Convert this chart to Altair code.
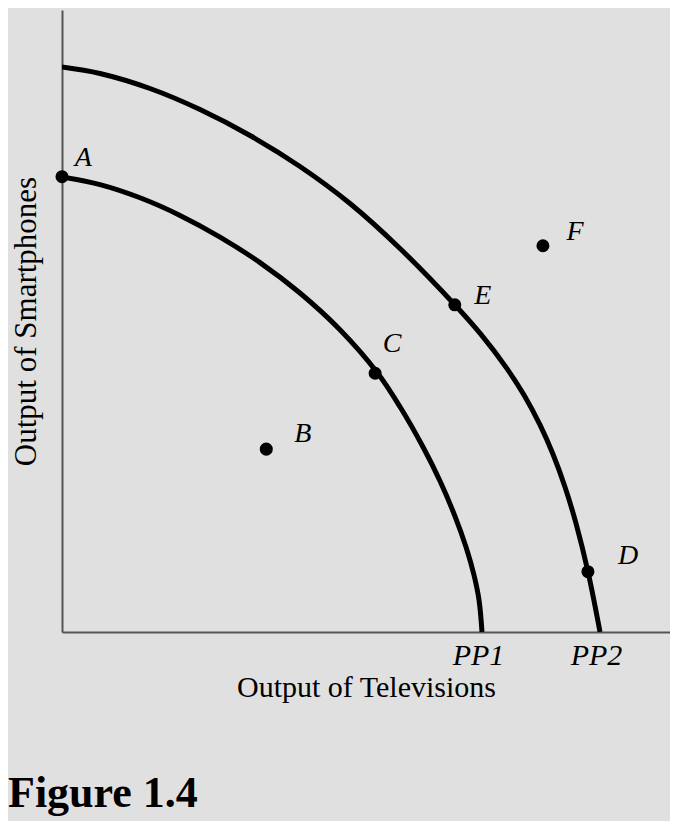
import altair as alt
import pandas as pd

# Production possibility curves (x: televisions, y: smartphones)
pp1_x = [0, 6.25, 12.83, 19.41, 25.99, 32.57, 39.14, 45.72, 51.81, 55.59,
         59.38, 62.17, 64.64, 66.45, 67.76, 68.59, 69.08]
pp1_y = [73.15, 71.93, 69.81, 66.98, 63.50, 59.39, 54.50, 48.59, 41.75, 36.21,
         29.74, 24.28, 18.60, 13.67, 9.16, 5.14, 0]
pp2_x = [0, 6.25, 14.47, 22.70, 30.92, 39.14, 47.37, 55.59, 64.64, 68.91,
         73.19, 75.99, 78.62, 80.76, 82.73, 84.54, 86.51, 88.49]
pp2_y = [90.84, 89.79, 87.38, 84.00, 79.82, 74.84, 68.89, 61.66, 52.57, 47.84,
         42.35, 38.10, 33.29, 28.57, 23.31, 17.46, 9.68, 0]

# Marked points
pt_names = ["A", "B", "C", "E", "F", "D"]
pt_x = [0, 33.6, 51.5, 64.6, 79.1, 86.5]
pt_y = [73.2, 29.4, 41.6, 52.6, 62.1, 9.7]
lab_x = [3.5, 39.6, 54.3, 69.2, 84.4, 93.1]
lab_y = [76.2, 31.8, 46.3, 54.0, 64.3, 12.2]

# Curve names and their x intercepts (tick labels)
curve_names = ["PP1", "PP2"]
intercepts = [69.08, 88.49]

rows = []
for name, xs, ys in [("PP1", pp1_x, pp1_y), ("PP2", pp2_x, pp2_y)]:
    for i, (x, y) in enumerate(zip(xs, ys)):
        rows.append({"curve": name, "i": i, "x": x, "y": y})
curves = pd.DataFrame(rows)
points = pd.DataFrame({"name": pt_names, "x": pt_x, "y": pt_y, "lx": lab_x, "ly": lab_y})

SERIF = "Liberation Serif"

xscale = alt.Scale(domain=[0, 100], nice=False, zero=False)
yscale = alt.Scale(domain=[0, 100], nice=False, zero=False)

label_expr = "datum.value < 80 ? '" + curve_names[0] + "' : '" + curve_names[1] + "'"

lines = alt.Chart(curves).mark_line(
    color="black", strokeWidth=5, interpolate="catmull-rom", clip=True
).encode(
    x=alt.X("x:Q", scale=xscale, axis=alt.Axis(
        values=intercepts, labelExpr=label_expr, ticks=False, grid=False,
        domainColor="#555555", domainWidth=2,
        labelFont=SERIF, labelFontSize=30, labelFontStyle="italic",
        labelColor="black", labelPadding=8, labelOffset=-4,
        title="Output of Televisions", titleFont=SERIF, titleFontSize=30,
        titleFontWeight="normal", titleColor="black", titlePadding=2,
    )),
    y=alt.Y("y:Q", scale=yscale, axis=alt.Axis(
        ticks=False, labels=False, grid=False,
        domainColor="#555555", domainWidth=2,
        title="Output of Smartphones", titleFont=SERIF, titleFontSize=31,
        titleFontWeight="normal", titleColor="black", titlePadding=20,
    )),
    detail="curve:N",
    order="i:Q",
)

dots = alt.Chart(points).mark_circle(color="black", size=170, opacity=1).encode(
    x=alt.X("x:Q", scale=xscale),
    y=alt.Y("y:Q", scale=yscale),
)

labels = alt.Chart(points).mark_text(
    font=SERIF, fontSize=28, fontStyle="italic", color="black",
    align="center", baseline="middle",
).encode(
    x=alt.X("lx:Q", scale=xscale),
    y=alt.Y("ly:Q", scale=yscale),
    text="name:N",
)

fig_title = alt.Chart(pd.DataFrame({"t": ["Figure 1.4"]})).mark_text(
    font=SERIF, fontSize=44, fontWeight="bold", color="black",
    align="left", baseline="alphabetic",
).encode(
    x=alt.value(-54),
    y=alt.value(797),
    text="t:N",
)

chart = alt.layer(lines, dots, labels, fig_title).properties(
    width=608, height=622,
    autosize=alt.AutoSizeParams(type="none"),
    padding={"left": 54, "top": 2, "right": 0, "bottom": 189},
).configure(background="#e0e0e0").configure_view(stroke=None)

chart.save("out.html", embed_options={"renderer": "svg", "actions": False})
